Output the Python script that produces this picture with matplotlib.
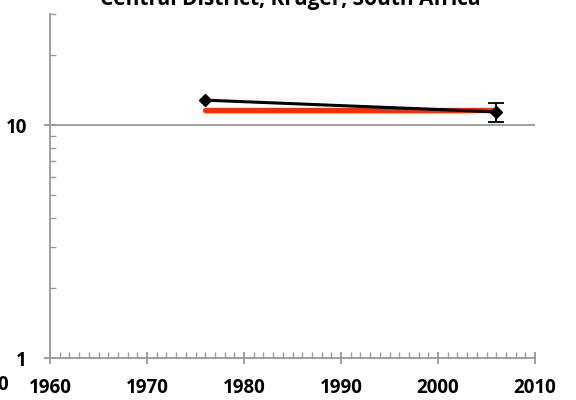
import matplotlib
matplotlib.use("Agg")
import matplotlib.pyplot as plt
from matplotlib.ticker import FixedLocator, NullFormatter, LogLocator
import numpy as np

plt.rcParams['font.family'] = ['Open Sans', 'DejaVu Sans']

title = "Central District, Kruger, South Africa"
obs_years = [1976, 2006]
obs_values = [12.8, 11.4]
err_year = [2006]
err_value = [11.4]
err_low = [1.1]
err_high = [1.1]
trend_years = [1976, 2006]
trend_values = [11.6, 11.6]
x_ticks = [1960, 1970, 1980, 1990, 2000, 2010]
y_ticks = [1, 10]

fig = plt.figure(figsize=(5.76, 4.0), dpi=100)
ax = fig.add_axes([50/576, 42/400, 485/576, 344/400])

ax.set_yscale('log')
ax.set_xlim(1960, 2010)
ax.set_ylim(1, 30)

ax.axhline(10, color='#999999', lw=1.3, zorder=1)

ax.plot(trend_years, trend_values, color='#ff2a00', lw=3.8, solid_capstyle='round', zorder=3)
ax.plot(obs_years, obs_values, color='black', lw=2.2, marker='D', ms=6, zorder=4)
ax.errorbar(err_year, err_value, yerr=[err_low, err_high], fmt='none', ecolor='black',
            elinewidth=1.3, capsize=6, capthick=1.3, zorder=5)

for s in ['top', 'right']:
    ax.spines[s].set_visible(False)
for s in ['left', 'bottom']:
    ax.spines[s].set_color('#999999')
    ax.spines[s].set_linewidth(1.3)

ax.set_xticks(x_ticks)
ax.set_xticklabels([str(v) for v in x_ticks])
ax.xaxis.set_minor_locator(FixedLocator(np.arange(1960, 2011, 1)))
ax.set_yticks(y_ticks)
ax.set_yticklabels([str(v) for v in y_ticks])
ax.yaxis.set_minor_locator(LogLocator(base=10, subs=np.arange(2, 10)))
ax.yaxis.set_minor_formatter(NullFormatter())

ax.tick_params(axis='both', which='major', direction='inout', length=9, width=1.3,
               color='#999999', labelsize=13.5)
ax.tick_params(axis='both', which='minor', direction='in', length=4, width=1.0, color='#999999')
ax.tick_params(axis='x', which='major', pad=10)
ax.tick_params(axis='y', which='major', pad=12)
for lab in ax.get_xticklabels() + ax.get_yticklabels():
    lab.set_fontweight('bold')

fig.text(290/576, 1 - 0/400, title, ha='center', va='center', fontsize=15, fontweight='bold')
fig.text(3/576, 1 - 385/400, "0", ha='center', va='center', fontsize=13.5, fontweight='bold')

fig.savefig("out.png", dpi=100)
